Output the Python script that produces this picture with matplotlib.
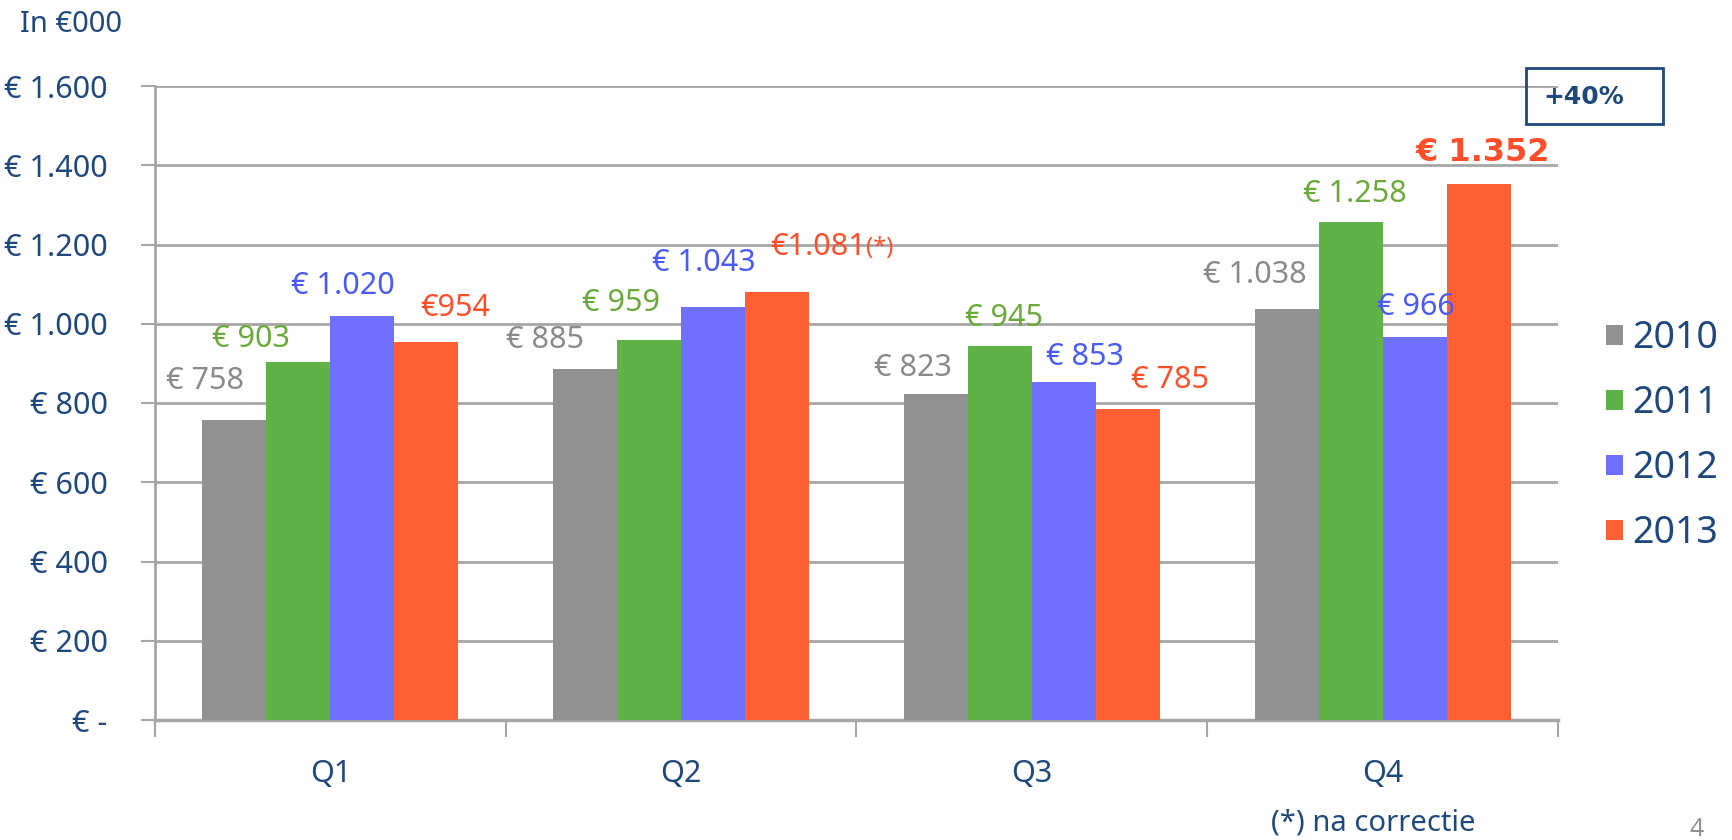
import matplotlib
matplotlib.use("Agg")
import matplotlib.pyplot as plt
import numpy as np

plt.rcParams['font.family'] = ['Noto Sans', 'DejaVu Sans']

quarters = ['Q1', 'Q2', 'Q3', 'Q4']
years = ['2010', '2011', '2012', '2013']
v2010 = [758, 885, 823, 1038]
v2011 = [903, 959, 945, 1258]
v2012 = [1020, 1043, 853, 966]
v2013 = [954, 1081, 785, 1352]
labels2010 = ['€ 758', '€ 885', '€ 823', '€ 1.038']
labels2011 = ['€ 903', '€ 959', '€ 945', '€ 1.258']
labels2012 = ['€ 1.020', '€ 1.043', '€ 853', '€ 966']
labels2013 = ['€954', '€1.081', '€ 785', '€ 1.352']
yticks = [0, 200, 400, 600, 800, 1000, 1200, 1400, 1600]
ytick_labels = ['€ -', '€ 200', '€ 400', '€ 600', '€ 800', '€ 1.000', '€ 1.200', '€ 1.400', '€ 1.600']

series = [v2010, v2011, v2012, v2013]
series_labels = [labels2010, labels2011, labels2012, labels2013]
bar_colors = ['#919191', '#5fb346', '#7070ff', '#ff5f33']
text_colors = ['#8a8a8a', '#6aaa3a', '#4a5af5', '#ff4f2a']
navy = '#1f497d'

# hand placement of the value labels (x offset in category units, y offset in value units)
dx = [[-0.084, -0.115, -0.064, -0.092],
      [-0.135, -0.081, 0.013, 0.013],
      [-0.056, -0.027, 0.059, 0.003],
      [0.081, 0.254, 0.120, 0.012]]
dy = [[97, 74, 65, 86],
      [58, 93, 70, 70],
      [75, 110, 64, 77],
      [85, 112, 74, 80]]

W, H = 1733, 840
fig = plt.figure(figsize=(W / 100, H / 100), dpi=100)
ax = fig.add_axes([155 / W, 1 - 720 / H, (1558 - 155) / W, (720 - 86) / H])

fs = 22
bw = 0.1825
centers = np.arange(len(quarters)) + 0.5
bars = []
for i, vals in enumerate(series):
    xs = centers + (i - 1.5) * bw
    b = ax.bar(xs, vals, width=bw, color=bar_colors[i], label=years[i], zorder=3)
    bars.append(b)
    for j, v in enumerate(vals):
        txt = series_labels[i][j]
        if i == 3 and j == 1:
            # the corrected Q2 value gets a small (*) behind it
            xb = xs[j] + dx[i][j]
            ax.text(xb, v + dy[i][j], txt, color=text_colors[i], fontsize=fs,
                    ha='right', va='center', zorder=5)
            ax.text(xb, v + dy[i][j] - 3, '(*)', color=text_colors[i], fontsize=17,
                    ha='left', va='center', zorder=5)
        elif i == 3 and j == 3:
            ax.text(xs[j] + dx[i][j], v + dy[i][j], txt, color=text_colors[i],
                    fontsize=23, fontweight='bold', family='DejaVu Sans',
                    ha='center', va='center', zorder=5)
        else:
            ax.text(xs[j] + dx[i][j], v + dy[i][j], txt, color=text_colors[i],
                    fontsize=fs, ha='center', va='center', zorder=5)

ax.set_xlim(0, len(quarters))
ax.set_ylim(0, 1600)
ax.set_yticks(yticks)
ax.set_yticklabels(ytick_labels)
ax.yaxis.grid(True, color='#a6a6a6', linewidth=2, zorder=0)
ax.set_axisbelow(True)

ax.set_xticks(centers)
ax.set_xticklabels(quarters)
ax.set_xticks(np.arange(len(quarters) + 1), minor=True)
ax.tick_params(axis='x', which='major', length=0, pad=28, labelsize=fs, labelcolor=navy)
ax.tick_params(axis='x', which='minor', length=12, width=1.5, color='#a6a6a6', direction='out')
ax.tick_params(axis='y', length=10, width=1.5, color='#a6a6a6', pad=24, labelsize=fs,
               labelcolor=navy)

for s in ['top', 'right']:
    ax.spines[s].set_visible(False)
ax.spines['left'].set_color('#a6a6a6')
ax.spines['left'].set_linewidth(2)
ax.spines['bottom'].set_color('#a6a6a6')
ax.spines['bottom'].set_linewidth(2.5)

fig.legend(handles=bars, labels=years, loc='center left', bbox_to_anchor=(0.927, 0.4815),
           frameon=False, fontsize=27, handlelength=0.45, handleheight=0.45,
           handletextpad=0.25, labelspacing=0.72, borderpad=0, borderaxespad=0,
           labelcolor=navy)

fig.text(20 / W, 1 - 24 / H, 'In €000', fontsize=21, color=navy, ha='left', va='center')
fig.text(1271 / W, 1 - 823 / H, '(*) na correctie', fontsize=21, color=navy,
         ha='left', va='center')
fig.text(1697 / W, 1 - 829 / H, '4', fontsize=18, color='#909090', ha='center', va='center')

fig.text(1584 / W, 1 - 97 / H, '+40%', fontsize=18, fontweight='bold', family='DejaVu Sans',
         color=navy, ha='center', va='center')
box = plt.Rectangle((1526 / W, 1 - 124 / H), (1663 - 1526) / W, (124 - 68) / H,
                    transform=fig.transFigure, fill=False, edgecolor=navy, linewidth=2)
fig.patches.append(box)

fig.savefig('out.png', dpi=100)
